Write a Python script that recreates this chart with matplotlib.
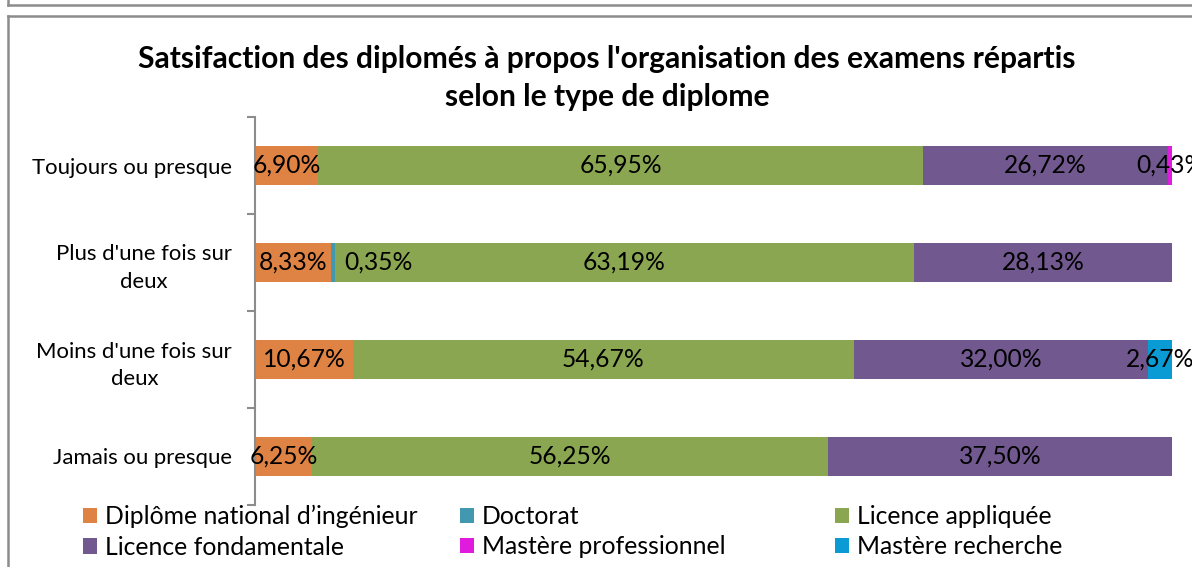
import matplotlib
matplotlib.use("Agg")
import matplotlib.pyplot as plt
from matplotlib.lines import Line2D
import numpy as np

categories = ["Toujours ou presque", "Plus d'une fois sur\ndeux",
              "Moins d'une fois sur\ndeux", "Jamais ou presque"]
series_names = ["Diplôme national d’ingénieur", "Doctorat", "Licence appliquée",
                "Licence fondamentale", "Mastère professionnel", "Mastère recherche"]
ingenieur = [6.90, 8.33, 10.67, 6.25]
doctorat = [0.00, 0.35, 0.00, 0.00]
licence_appliquee = [65.95, 63.19, 54.67, 56.25]
licence_fondamentale = [26.72, 28.13, 32.00, 37.50]
mastere_pro = [0.43, 0.00, 0.00, 0.00]
mastere_recherche = [0.00, 0.00, 2.67, 0.00]
title = "Satsifaction des diplomés à propos l'organisation des examens répartis\nselon le type de diplome"

series = [ingenieur, doctorat, licence_appliquee, licence_fondamentale, mastere_pro, mastere_recherche]
colors = ["#DF8344", "#4298AE", "#8AA650", "#71588F", "#E01BDD", "#0A9BD5"]

FONT = ["Lato", "DejaVu Sans"]
plt.rcParams["font.family"] = FONT

fig = plt.figure(figsize=(11.92, 5.67), dpi=100)
W, H = 1192, 567
ax = fig.add_axes([255 / W, 1 - 505 / H, (1172 - 255) / W, (505 - 117) / H])

y = np.arange(len(categories))[::-1]  # top to bottom
left = np.zeros(len(categories))
handles = []
LBL = 17.7
for name, vals, col in zip(series_names, series, colors):
    vals = np.array(vals)
    bars = ax.barh(y, vals, left=left, height=0.40, color=col, label=name, linewidth=0)
    handles.append(bars)
    for yi, l, v in zip(y, left, vals):
        if v <= 0:
            continue
        txt = f"{v:.2f}%".replace(".", ",")
        if name == "Doctorat":
            ax.text(l + v + 1.0, yi, txt, ha="left", va="center", fontsize=LBL, color="black")
        else:
            ax.text(l + v / 2, yi, txt, ha="center", va="center", fontsize=LBL, color="black",
                    clip_on=False)
    left = left + vals

ax.set_xlim(0, 100)
ax.set_ylim(-0.5, len(categories) - 0.5)
for s in ["top", "right", "bottom"]:
    ax.spines[s].set_visible(False)
ax.spines["left"].set_color("#8C8C8C")
ax.spines["left"].set_linewidth(1.5)
ax.set_xticks([])
ax.set_yticks(np.arange(-0.5, len(categories), 1.0))
ax.set_yticklabels([])
ax.set_yticks(y, minor=True)
ax.set_yticklabels(categories, minor=True, fontsize=15.9, multialignment="center",
                   linespacing=1.45)
ax.tick_params(axis="y", which="major", length=6, width=1.5, color="#8C8C8C", direction="out")
ax.tick_params(axis="y", which="minor", length=0, pad=16.5)

fig.text(607 / W, 1 - 78 / H, title, ha="center", va="center", fontsize=21.6,
         fontweight="bold", linespacing=1.45)

# legend: three columns, each a separate legend
col_x = [83, 460, 835]
order = [[0, 3], [1, 4], [2, 5]]
for cx, idx in zip(col_x, order):
    leg = fig.legend([handles[i] for i in idx], [series_names[i] for i in idx],
                     loc="upper left", bbox_to_anchor=(cx / W, 1 - 505 / H),
                     frameon=False, fontsize=17.8, handlelength=0.58, handleheight=0.58,
                     handletextpad=0.3, labelspacing=0.3, borderpad=0, borderaxespad=0)

# frame lines of the original sheet
gray = "#8C8C8C"
fig.add_artist(Line2D([8 / W, 1], [1 - 5 / H, 1 - 5 / H], color=gray, lw=1.8, transform=fig.transFigure))
fig.add_artist(Line2D([8 / W, 8 / W], [1, 1 - 5 / H], color=gray, lw=1.8, transform=fig.transFigure))
fig.add_artist(Line2D([8 / W, 1], [1 - 16 / H, 1 - 16 / H], color=gray, lw=1.8, transform=fig.transFigure))
fig.add_artist(Line2D([8 / W, 8 / W], [0, 1 - 16 / H], color=gray, lw=1.8, transform=fig.transFigure))

fig.savefig("out.png", dpi=100)
